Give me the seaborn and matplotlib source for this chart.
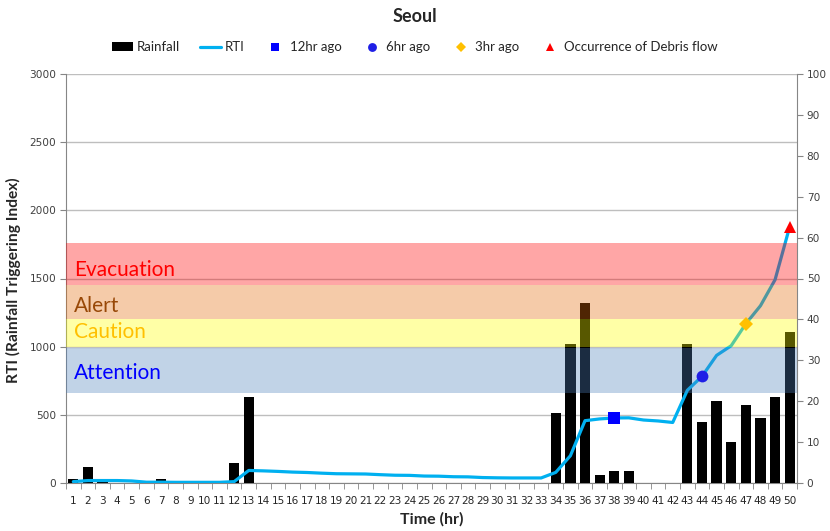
import numpy as np
import matplotlib
matplotlib.use("Agg")
import matplotlib.pyplot as plt
import matplotlib.transforms as mtransforms
from matplotlib.patches import Patch
from matplotlib.lines import Line2D
from matplotlib.ticker import FixedLocator
import seaborn as sns

# ---------------- data ----------------
hours = list(range(1, 51))
rainfall = [1, 4, 1, 0, 0, 0, 1, 0, 0, 0,
            0, 5, 21, 0, 0, 0, 0, 0, 0, 0,
            0, 0, 0, 0, 0, 0, 0, 0, 0, 0,
            0, 0, 0, 17, 34, 44, 2, 3, 3, 0,
            0, 0, 34, 15, 20, 10, 19, 16, 21, 37]
rti = [10, 18, 18, 18, 15, 6, 6, 5, 5, 5,
       5, 10, 92, 89, 85, 80, 77, 72, 68, 67,
       66, 61, 57, 56, 51, 50, 46, 45, 40, 38,
       37, 37, 37, 78, 200, 457, 470, 477, 478, 462,
       455, 444, 680, 782, 936, 1007, 1168, 1300, 1491, 1880]

marker_labels = ["12hr ago", "6hr ago", "3hr ago", "Occurrence of Debris flow"]
marker_hours = [38, 44, 47, 50]
marker_styles = ["s", "o", "D", "^"]
marker_colors = ["#0000FF", "#1F1FE6", "#FFC000", "#FF0000"]
marker_sizes = [8, 8.5, 7, 8.5]

band_names = ["Attention", "Caution", "Alert", "Evacuation"]
band_low = [660, 1000, 1200, 1450]
band_high = [990, 1200, 1450, 1760]
band_colors = ["#4F81BD", "#FFFF00", "#E46C0A", "#FF0000"]
band_text_colors = ["#0000FF", "#FFC000", "#984807", "#FF0000"]
band_text_y = [805, 1105, 1295, 1565]

rti_ticks = [0, 500, 1000, 1500, 2000, 2500, 3000]
rain_ticks = list(range(0, 101, 10))

# ---------------- style ----------------
sns.set_style("white")
plt.rcParams["font.family"] = ["DejaVu Sans"]
title_font = ["Lato", "DejaVu Sans"]
grey = "#868686"

fig = plt.figure(figsize=(8.3, 5.31), dpi=100)
ax = fig.add_axes([66 / 830, 1 - 483 / 531, (797 - 66) / 830, (483 - 74) / 531])
ax2 = ax.twinx()
ax3 = ax.twinx()
ax3.sharey(ax)

ax.set_zorder(0)
ax2.set_zorder(1)
ax3.set_zorder(2)
ax2.patch.set_visible(False)
ax3.patch.set_visible(False)

# grid (bottom layer)
ax.set_ylim(0, 3000)
ax.set_xlim(0.5, 50.5)
ax.yaxis.set_major_locator(FixedLocator(rti_ticks))
ax.grid(axis="y", color="#BEBEBE", lw=1.0)
ax.grid(axis="x", visible=False)

# rainfall bars (middle layer)
sns.barplot(x=hours, y=rainfall, native_scale=True, color="black",
            saturation=1, width=0.7, ax=ax2, edgecolor="none")
ax2.set_ylim(0, 100)
ax2.set_xlim(0.5, 50.5)
ax2.yaxis.set_major_locator(FixedLocator(rain_ticks))
ax2.set_ylabel("")
ax2.grid(False)

# RTI line, bands, markers (top layer)
sns.lineplot(x=hours, y=rti, ax=ax3, color="#00B0F0", lw=2.3, zorder=2)
for lo, hi, c in zip(band_low, band_high, band_colors):
    ax3.axhspan(lo, hi, color=c, alpha=0.35, lw=0, zorder=3)
trans = mtransforms.blended_transform_factory(ax3.transAxes, ax3.transData)
for name, ty, tc in zip(band_names, band_text_y, band_text_colors):
    ax3.text(0.011, ty, name, transform=trans, color=tc, fontsize=15,
             family=title_font, va="center", ha="left", zorder=5)
for h, m, c, s in zip(marker_hours, marker_styles, marker_colors, marker_sizes):
    ax3.plot([h], [rti[h - 1]], marker=m, color=c, ms=s, ls="none",
             markeredgewidth=0, zorder=6)
ax3.set_xlim(0.5, 50.5)
ax3.set_ylim(0, 3000)
ax3.axis("off")

# axes decoration
for a in (ax, ax2):
    for sp in a.spines.values():
        sp.set_visible(False)
ax.spines["left"].set_visible(True)
ax.spines["left"].set_color(grey)
ax.spines["bottom"].set_visible(True)
ax.spines["bottom"].set_color(grey)
ax2.spines["right"].set_visible(True)
ax2.spines["right"].set_color(grey)

ax.set_xticks(hours)
ax.set_xticklabels([str(h) for h in hours])
ax.xaxis.set_minor_locator(FixedLocator(np.arange(0.5, 51, 1)))
ax.tick_params(axis="x", which="major", length=0, labelsize=7.6,
               colors="#262626", pad=9)
ax.tick_params(axis="x", which="minor", length=4, color=grey, bottom=True)
ax.tick_params(axis="y", which="major", left=True, length=4, color=grey,
               labelsize=7.6, labelcolor="#404040", pad=3)
ax2.tick_params(axis="y", which="major", right=True, length=4, color=grey,
                labelsize=7.6, labelcolor="#404040", pad=3)
ax2.tick_params(axis="x", which="both", bottom=False, labelbottom=False)

ax.set_ylabel("RTI (Rainfall Triggering Index)", fontsize=11.2, fontweight="bold",
              family=title_font)
ax.yaxis.set_label_coords(-0.061, 0.495)
ax.set_xlabel("Time (hr)", fontsize=11.5, fontweight="bold", family=title_font,
              labelpad=5)
fig.text(0.5, 1 - 17 / 531, "Seoul", ha="center", va="center",
         fontsize=13, fontweight="bold", family=title_font)

# legend
handles = [Patch(facecolor="black", edgecolor="none"),
           Line2D([0], [0], color="#00B0F0", lw=2.3)]
for m, c, s in zip(marker_styles, marker_colors, marker_sizes):
    handles.append(Line2D([0], [0], marker=m, color=c, ls="none",
                          ms=s * 0.75, markeredgewidth=0))
labels = ["Rainfall", "RTI"] + marker_labels
fig.legend(handles, labels, loc="center", bbox_to_anchor=(0.5, 1 - 47 / 531),
           ncol=6, frameon=False, prop={"family": title_font, "size": 9.5},
           handlelength=1.6, handletextpad=0.3, columnspacing=1.5,
           handleheight=0.6)

fig.savefig("out.png", dpi=100)
